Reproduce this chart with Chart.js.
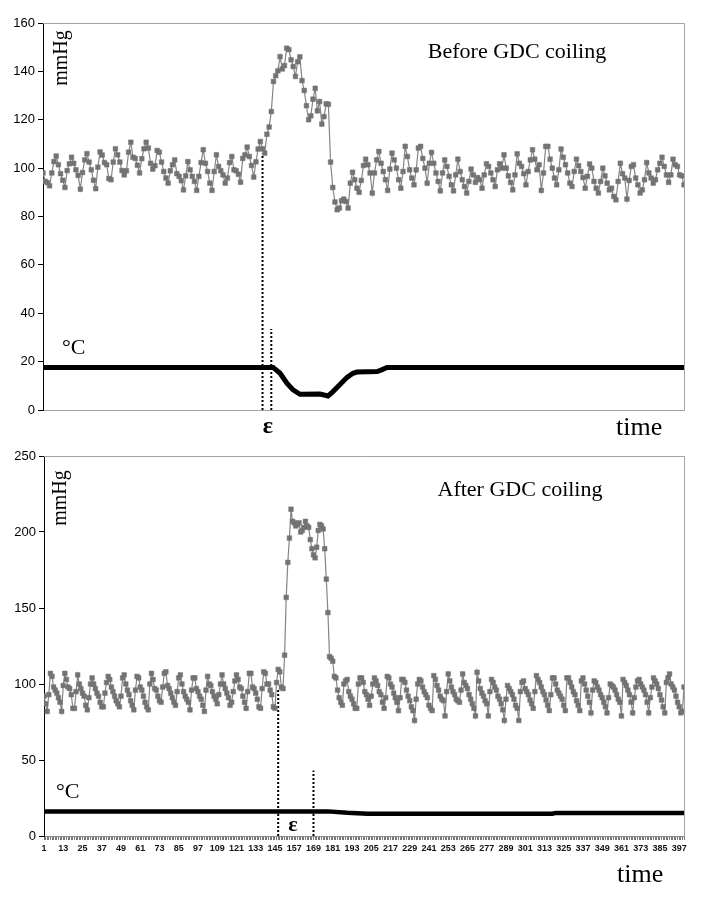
<!DOCTYPE html>
<html lang="en">
<head>
<meta charset="UTF-8">
<title>Pressure and temperature before / after GDC coiling</title>
<script src="https://cdn.jsdelivr.net/npm/chart.js"></script>
<style>
  html, body { margin: 0; padding: 0; background: #fff; }
  .wrap { position: relative; width: 705px; height: 899px; }
  canvas { position: absolute; left: 0; }
  #beforeChart { top: 0; }
  #afterChart { top: 440px; }
</style>
</head>
<body>
<div class="wrap">
  <canvas id="beforeChart" width="705" height="440"></canvas>
  <canvas id="afterChart" width="705" height="459"></canvas>
</div>
<script>
// ---- before coiling: pressure (mmHg), one value per sample
const beforePressure = [
  98, 94.5, 94, 92.7, 98, 102.7, 105, 101.4, 97.7, 95,
  92, 99, 101.8, 104.5, 102, 99.3, 97, 91.3, 98.2, 103.4,
  106, 102.5, 99.3, 95, 91.5, 100.4, 106.7, 105.4, 102.3, 101.4,
  95.7, 95.2, 102.5, 108, 105.5, 102.5, 99, 97.2, 98.9, 106.6,
  110.7, 104.5, 104, 101.2, 98, 103.9, 108, 110.7, 108.3, 102,
  99.6, 101, 107.3, 106.6, 102.5, 98.6, 95.9, 93.8, 98.9, 101.4,
  103.4, 97.7, 96.6, 94.8, 91, 96.8, 102.7, 99.3, 96.6, 94.5,
  90.8, 96.6, 102.3, 107.6, 102, 98.6, 93.8, 90.8, 98.6, 105.5,
  100.7, 98.9, 97.2, 93.8, 95.9, 102.3, 104.8, 99.3, 98.9, 97.5,
  94.2, 104, 105.5, 108.7, 104.8, 101.1, 96.3, 102.6, 107.9, 111,
  108, 106.2, 114, 117, 123.4, 135.8, 138.2, 140.2, 146.1, 141,
  142.4, 149.6, 149, 144.8, 142, 137.9, 144, 146, 136.2, 132.1,
  125.8, 120, 121.6, 128.5, 133, 123.7, 127.5, 118.2, 121.3, 126.6,
  126.4, 102.5, 92, 86, 82.8, 83.5, 86.5, 87.2, 86.2, 83.5,
  93.8, 98.3, 95.2, 91.7, 90, 94.9, 101.1,
  103.7, 101.4, 98, 89.7, 98, 103.4, 106.9, 102, 98.6, 95.2,
  90.8, 99.6, 106.2, 103.4, 100, 95.2, 91.7, 98.6, 109, 104.8,
  99.3, 95.9, 93.1, 99.3, 108.3, 109, 104, 100, 93.8, 102,
  106.5, 102, 98, 94.5, 90.6, 98, 103.4, 100.7, 96.6, 93.1,
  90.6, 97.2, 103.7, 98.6, 95.2, 92.4, 89.7, 94.5, 99.6, 97.2,
  94.1, 96.1, 95.2, 91.7, 97.2, 101.8, 100.7, 98, 95.2, 92.4,
  99.3, 101.8, 100, 105.5, 100, 96.8, 94.1, 91, 97.2, 105.9,
  102, 100.7, 97.7, 93.1, 98.6, 103.4, 107.6, 103.7, 99.3, 101.4,
  90.8, 98, 109, 109, 103.7, 100, 95.9, 93.1, 99.3, 107.9,
  104.5, 101.4, 98, 93.8, 92.4, 98.6, 103.7, 101, 98.6, 96.1,
  91.7, 96.6, 101.7, 100, 94.5, 91.7, 89.7, 94.5, 100, 96.8,
  93.8, 91, 91.7, 88.3, 86.9, 94.5, 102, 97.7, 95.9, 87.2,
  94.9, 100.7, 101.4, 95.9, 93.1, 89.7, 91, 95.2, 102.3, 98,
  95.9, 93.8, 95.2, 99.3, 102, 104.5, 100.7, 97.2, 94.1, 97.2,
  103.7, 101.4, 100.7, 97.2, 96.8, 93.1
];
// temperature (°C) read at the sample where the curve bends
const beforeTempAt = [1, 105.8, 109, 112.2, 114.9, 118.1, 127.2, 130.8, 133.1, 136.3, 139.5, 142.2, 144, 153.2, 155, 157.7, 293];
const beforeTemp   = [17.6, 17.6, 15.2, 11, 8.3, 6.5, 6.6, 5.8, 7.6, 10.5, 13.5, 15.2, 15.7, 15.9, 16.5, 17.6, 17.6];
// dotted epsilon markers: sample and height
const beforeEpsAt  = [101, 105];
const beforeEpsTop = [106, 33.5];

// ---- after coiling
const afterPressure = [
  92, 87, 82, 93, 107, 105, 98, 96, 94, 91,
  88, 82, 99, 107, 103, 98, 97, 93, 84, 84,
  95, 106, 100, 97, 94, 92, 86, 83, 91, 100,
  104, 100, 97, 94, 92, 88, 85, 85, 94, 101,
  105, 103, 98, 95, 92, 89, 87, 85, 92, 104,
  106, 100, 96, 93, 89, 86, 83, 96, 105, 104,
  98, 96, 92, 88, 85, 83, 100, 107, 103, 97,
  96, 92, 89, 88, 98, 107, 108, 99, 97, 94,
  91, 88, 86, 95, 104, 106, 100, 95, 92, 90,
  88, 83, 96, 104, 104, 97, 95, 92, 90, 86,
  82, 96, 105, 100, 99, 95, 92, 90, 87, 93,
  100, 106, 100, 97, 94, 91, 86, 88, 95, 102,
  106, 103, 98, 97, 92, 88, 84, 95, 107, 107,
  98, 97, 94, 90, 85, 84, 97, 108, 107, 100,
  100, 96, 93, 85, 84, 101, 109.6, 108, 98, 97,
  119, 157, 180, 196, 215, 207, 206, 204, 205, 206,
  200, 201, 203, 207, 204, 203, 195, 189, 185, 183,
  190, 201, 205, 204, 202, 189, 169, 147, 118, 117,
  115, 105, 104, 96, 91, 88, 86, 100, 102, 103,
  95, 92, 90, 87, 84, 84, 100, 104, 104, 101,
  95, 93, 90, 86, 92, 100, 104, 102, 99, 95,
  93, 88, 84, 91, 105, 104, 100, 98, 94, 91,
  88, 82.5, 91, 103, 103, 101, 96, 92, 89, 85,
  82.5, 76, 90, 100, 103, 102, 98, 95, 93, 91,
  86, 84, 82.5, 105.5, 103, 99, 96, 92, 90, 89,
  79, 95, 106.6, 102, 98, 95, 93, 90, 89, 88,
  96, 106.6, 101, 99, 97, 93, 90, 87, 84, 79,
  107.7, 102, 97, 94, 92, 89, 87, 79, 95, 103,
  101, 98, 96, 92, 90, 87, 83, 76, 90, 99,
  97, 95, 93, 90, 86, 84, 76, 95, 101, 102,
  97, 95, 93, 89.5, 87, 84, 95, 105.5, 103, 101,
  98, 95, 93, 89.5, 86, 82.5, 93, 104, 104, 100,
  96, 94, 92, 90, 86, 82.5, 104, 104, 101, 98,
  95, 93, 89, 86, 82.5, 102, 104, 100, 96, 92,
  88, 81, 96, 102, 101, 98, 96, 93, 91, 88,
  85, 81, 91, 100, 99, 98, 96, 93, 90, 88,
  79, 103, 101, 99, 96, 93, 88, 81, 91, 98,
  102, 103, 100, 98, 96, 93, 88, 81, 91, 98,
  104, 102, 100, 97, 93, 89.5, 85, 81, 101, 104,
  106.6, 100, 98, 96, 92, 88, 85, 81, 82, 98
];
const afterTempAt = [1, 178, 190, 203, 318, 320, 400];
const afterTemp   = [16.2, 16.2, 15.3, 14.7, 14.7, 15.2, 15.2];
const afterEpsAt  = [147, 169];
const afterEpsTop = [97, 43];
// time axis: every sample is a tick, every 12th one is labelled
const afterTime = afterPressure.map((_, i) => i + 1);
const timeLabelStep = 12;

Chart.defaults.font.family = '"Liberation Sans", Arial, sans-serif';

const SERIF = '"Liberation Serif", "Times New Roman", serif';

// frame (grey top / right edges) and the free-standing labels
const frameAndText = {
  id: 'frameAndText',
  afterDraw(chart, args, opts) {
    const { ctx, chartArea: a } = chart;
    ctx.save();
    ctx.strokeStyle = '#a3a3a3';
    ctx.lineWidth = 1;
    ctx.beginPath();
    ctx.moveTo(a.left, a.top + 0.5);
    ctx.lineTo(a.right + 0.5, a.top + 0.5);
    ctx.lineTo(a.right + 0.5, a.bottom);
    ctx.stroke();
    ctx.fillStyle = '#000';
    (opts.texts || []).forEach(t => {
      ctx.save();
      ctx.font = t.font;
      ctx.textAlign = t.align || 'left';
      ctx.textBaseline = 'alphabetic';
      ctx.translate(t.x, t.y);
      if (t.rotate) ctx.rotate(t.rotate);
      ctx.fillText(t.text, 0, 0);
      ctx.restore();
    });
    ctx.restore();
  }
};

function pressureSet(values) {
  return {
    data: values.map((v, i) => ({ x: i + 1, y: v })),
    borderColor: '#858585',
    borderWidth: 1.2,
    pointStyle: 'rect',
    pointRadius: 3.3,
    pointBackgroundColor: '#737373',
    pointBorderColor: '#737373',
    pointBorderWidth: 0.5
  };
}

function tempSet(at, vals, width) {
  return {
    data: at.map((x, i) => ({ x: x, y: vals[i] })),
    borderColor: '#000',
    borderWidth: width,
    pointRadius: 0
  };
}

function epsSets(at, tops) {
  return at.map((x, i) => ({
    data: [{ x: x, y: 0 }, { x: x, y: tops[i] }],
    borderColor: '#000',
    borderWidth: 2,
    borderDash: [2, 2],
    pointRadius: 0
  }));
}

function yAxis(max, step, width) {
  return {
    min: 0, max: max,
    ticks: { stepSize: step, color: '#000', font: { size: 13 }, padding: 3 },
    grid: { drawOnChartArea: false, tickLength: 5, color: '#000' },
    border: { color: '#000', width: 1 },
    afterFit(s) { s.width = width; }
  };
}

// top chart
new Chart(document.getElementById('beforeChart'), {
  type: 'line',
  data: {
    datasets: [pressureSet(beforePressure)]
      .concat(epsSets(beforeEpsAt, beforeEpsTop))
      .concat([tempSet(beforeTempAt, beforeTemp, 5)])
  },
  options: {
    responsive: false,
    animation: false,
    layout: { padding: { left: 0, right: 21, top: 23, bottom: 0 } },
    scales: {
      x: {
        type: 'linear', min: 1, max: beforePressure.length,
        ticks: { display: false },
        grid: { display: false },
        border: { color: '#a3a3a3' },
        afterFit(s) { s.height = 30; }
      },
      y: yAxis(160, 20, 43)
    },
    plugins: {
      legend: { display: false },
      tooltip: { enabled: false },
      frameAndText: {
        texts: [
          { text: 'Before GDC coiling', x: 517, y: 58, font: '22px ' + SERIF, align: 'center' },
          { text: 'mmHg', x: 67, y: 58, font: '20px ' + SERIF, align: 'center', rotate: -Math.PI / 2 },
          { text: '°C', x: 62, y: 354, font: '22px ' + SERIF },
          { text: 'ε', x: 268, y: 433, font: 'bold 24px ' + SERIF, align: 'center' },
          { text: 'time', x: 616, y: 435, font: '26px ' + SERIF }
        ]
      }
    }
  },
  plugins: [frameAndText]
});

// bottom chart
new Chart(document.getElementById('afterChart'), {
  type: 'line',
  data: {
    datasets: [pressureSet(afterPressure)]
      .concat(epsSets(afterEpsAt, afterEpsTop))
      .concat([tempSet(afterTempAt, afterTemp, 4.5)])
  },
  options: {
    responsive: false,
    animation: false,
    layout: { padding: { left: 0, right: 21, top: 16, bottom: 0 } },
    scales: {
      x: {
        type: 'linear', min: 1, max: afterTime.length,
        afterBuildTicks(s) { s.ticks = afterTime.map(v => ({ value: v })); },
        ticks: {
          autoSkip: false, maxRotation: 0, minRotation: 0,
          color: '#111', font: { size: 9, weight: 'bold' }, padding: 3,
          callback: v => ((v - 1) % timeLabelStep === 0 ? String(v) : '')
        },
        grid: { drawOnChartArea: false, tickLength: 4, color: '#555', lineWidth: 0.8 },
        border: { color: '#8a8a8a' },
        afterFit(s) { s.height = 63; }
      },
      y: yAxis(250, 50, 44)
    },
    plugins: {
      legend: { display: false },
      tooltip: { enabled: false },
      frameAndText: {
        texts: [
          { text: 'After GDC coiling', x: 520, y: 56, font: '22px ' + SERIF, align: 'center' },
          { text: 'mmHg', x: 66, y: 58, font: '20px ' + SERIF, align: 'center', rotate: -Math.PI / 2 },
          { text: '°C', x: 56, y: 358, font: '22px ' + SERIF },
          { text: 'ε', x: 293, y: 391, font: 'bold 22px ' + SERIF, align: 'center' },
          { text: 'time', x: 617, y: 442, font: '26px ' + SERIF }
        ]
      }
    }
  },
  plugins: [frameAndText]
});
</script>
</body>
</html>
